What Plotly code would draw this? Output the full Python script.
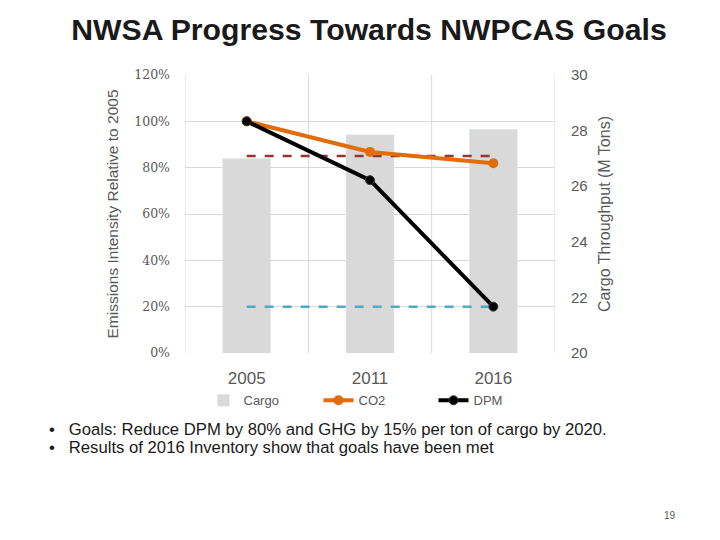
import plotly.graph_objects as go

years = ["2005", "2011", "2016"]
cargo = [27.0, 27.85, 28.05]
co2 = [100, 86.8, 81.9]
dpm = [100, 74.6, 20]
dpm_goal = [20, 20]
ghg_goal = [85, 85]
left_ticks = [0, 20, 40, 60, 80, 100, 120]
right_ticks = [20, 22, 24, 26, 28, 30]

xpos = list(range(len(years)))
FONT = "Liberation Sans"
GRAY = "#595959"

fig = go.Figure()
# bars on primary (right-side) axis so they are drawn underneath the lines
fig.add_trace(go.Bar(x=xpos, y=cargo, name="Cargo", marker_color="#d9d9d9",
                     width=0.39, yaxis="y"))
fig.add_trace(go.Scatter(x=[xpos[0], xpos[-1]], y=ghg_goal, mode="lines", yaxis="y2",
                         line=dict(color="#943634", width=2.5, dash="dash"),
                         showlegend=False, hoverinfo="skip"))
fig.add_trace(go.Scatter(x=[xpos[0], xpos[-1]], y=dpm_goal, mode="lines", yaxis="y2",
                         line=dict(color="#4bacc6", width=2.5, dash="dash"),
                         showlegend=False, hoverinfo="skip"))
fig.add_trace(go.Scatter(x=xpos, y=co2, name="CO2", mode="lines+markers", yaxis="y2",
                         line=dict(color="#e36c0a", width=4),
                         marker=dict(color="#e36c0a", size=10)))
fig.add_trace(go.Scatter(x=xpos, y=dpm, name="DPM", mode="lines+markers", yaxis="y2",
                         line=dict(color="#000000", width=4),
                         marker=dict(color="#000000", size=9,
                                     line=dict(color="#3a3a3a", width=1))))

# vertical category gridlines
for xv in [-0.5, 0.5, 1.5, 2.5]:
    fig.add_shape(type="line", xref="x", yref="paper", x0=xv, x1=xv, y0=0, y1=1,
                  line=dict(color="#d9d9d9", width=1), layer="below")

fig.update_layout(
    width=712, height=532,
    paper_bgcolor="white", plot_bgcolor="white",
    margin=dict(l=177, r=165, t=67, b=187),
    title=dict(text="<b>NWSA Progress Towards NWPCAS Goals</b>",
               x=0.507, xanchor="center", y=0.959, yanchor="middle",
               font=dict(family=FONT, size=30.2, color="#1a1a1a")),
    xaxis=dict(range=[-0.5, 2.5], tickvals=xpos, ticktext=years, automargin=False,
               showgrid=False, zeroline=False, showline=False,
               tickfont=dict(family=FONT, size=17, color=GRAY), ticks="",
               ticklabelstandoff=13),
    yaxis=dict(range=[20, 30], tickvals=right_ticks, side="right", automargin=False,
               showgrid=False, zeroline=False,
               tickfont=dict(family=FONT, size=15, color=GRAY),
               ticklabelstandoff=15,
               title=dict(text="Cargo Throughput (M Tons)",
                          font=dict(family=FONT, size=16, color=GRAY), standoff=12)),
    yaxis2=dict(range=[0, 120], tickvals=left_ticks, overlaying="y", side="left",
                ticktext=[f"{v}%" for v in left_ticks], automargin=False,
                showgrid=True, gridcolor="#d9d9d9", zeroline=False,
                tickfont=dict(family="DejaVu Serif", size=12.5, color=GRAY),
                ticklabelstandoff=14,
                title=dict(text="Emissions Intensity Relative to 2005",
                           font=dict(family=FONT, size=15.5, color=GRAY), standoff=11)),
    legend=dict(orientation="h", x=0.05, xanchor="left", y=-0.17, yanchor="middle",
                font=dict(family=FONT, size=13, color=GRAY), bgcolor="rgba(0,0,0,0)",
                itemwidth=30, entrywidth=70, traceorder="normal"),
    showlegend=True,
)

fig.add_annotation(xref="paper", yref="paper", x=-0.373, y=-0.274, xanchor="left",
                   yanchor="middle", showarrow=False, align="left",
                   text="•   Goals: Reduce DPM by 80% and GHG by 15% per ton of cargo by 2020.",
                   font=dict(family=FONT, size=16.7, color="#1a1a1a"))
fig.add_annotation(xref="paper", yref="paper", x=-0.373, y=-0.339, xanchor="left",
                   yanchor="middle", showarrow=False, align="left",
                   text="•   Results of 2016 Inventory show that goals have been met",
                   font=dict(family=FONT, size=16.7, color="#1a1a1a"))
fig.add_annotation(xref="paper", yref="paper", x=(670 - 185) / 370, y=(353 - 515) / 278,
                   xanchor="center", yanchor="middle", showarrow=False, text="19",
                   font=dict(family=FONT, size=10, color=GRAY))

fig.write_html("out.html")
